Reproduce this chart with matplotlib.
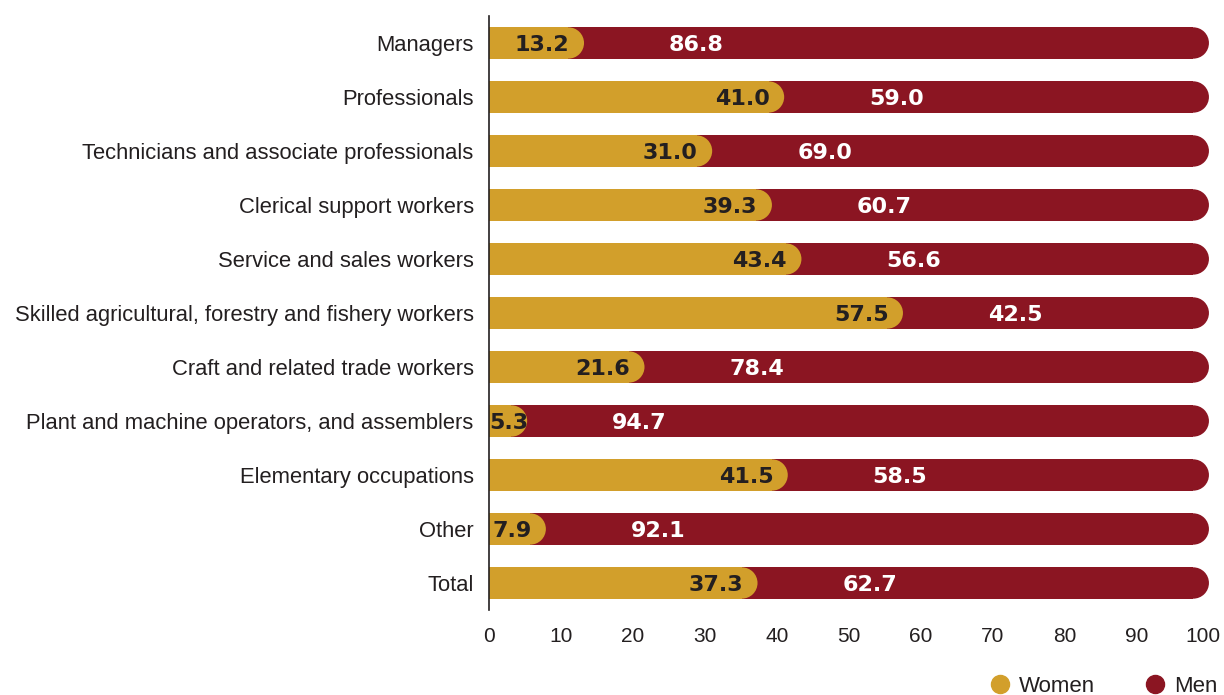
import matplotlib
matplotlib.use("Agg")
import matplotlib.pyplot as plt
import matplotlib.transforms as mtransforms
from matplotlib.patches import Ellipse
from matplotlib.lines import Line2D

categories = [
    "Managers",
    "Professionals",
    "Technicians and associate professionals",
    "Clerical support workers",
    "Service and sales workers",
    "Skilled agricultural, forestry and fishery workers",
    "Craft and related trade workers",
    "Plant and machine operators, and assemblers",
    "Elementary occupations",
    "Other",
    "Total",
]
women = [13.2, 41.0, 31.0, 39.3, 43.4, 57.5, 21.6, 5.3, 41.5, 7.9, 37.3]
men = [86.8, 59.0, 69.0, 60.7, 56.6, 42.5, 78.4, 94.7, 58.5, 92.1, 62.7]

women_color = "#D29F2B"
men_color = "#8B1522"
text_dark = "#231F20"

plt.rcParams["font.family"] = ["Liberation Sans", "DejaVu Sans"]

fig = plt.figure(figsize=(12.24, 6.95), dpi=100)
ax = fig.add_axes([0.3995, 0.1223, 0.5882, 0.8547])
ax.set_xlim(0, 100)
ax.set_ylim(len(categories) - 0.5, -0.5)

bar_h = 0.58
# half bar height in pixels, turned into x data units so the end cap is round
ax_w_px = 0.5882 * 1224
ax_h_px = 0.8547 * 695
r_px = bar_h / (len(categories)) * ax_h_px / 2
r_x = r_px / ax_w_px * 100


def rounded_bar(y, value, color, z):
    ax.barh(y, max(value - r_x, 0), height=bar_h, color=color, zorder=z, linewidth=0)
    ax.add_patch(Ellipse((value - r_x, y), 2 * r_x, bar_h, color=color, zorder=z, linewidth=0))


val_font = dict(fontsize=16, fontweight="bold", family="DejaVu Sans", va="center_baseline", zorder=5)

for i, (w, m) in enumerate(zip(women, men)):
    rounded_bar(i, w + m, men_color, 2)
    rounded_bar(i, w, women_color, 3)
    if w < 7:
        ax.text(0, i, f"{w:.1f}", ha="left", color=text_dark, **val_font)
    else:
        ax.text(w - 2.0, i, f"{w:.1f}", ha="right", color=text_dark, **val_font)
    ax.text(w + 11.8, i, f"{m:.1f}", ha="left", color="white", **val_font)

ax.set_yticks(range(len(categories)))
ax.set_yticklabels(categories, fontsize=15.8, color=text_dark)
ax.set_xticks(range(0, 101, 10))
ax.tick_params(axis="x", labelsize=15, colors=text_dark, length=0, pad=12)
ax.tick_params(axis="y", length=0, pad=11)

# nudge the "100" label so it stays inside the figure
last = ax.get_xticklabels()[-1]
last.set_transform(last.get_transform() + mtransforms.ScaledTranslation(-4 / 72, 0, fig.dpi_scale_trans))

for s in ["top", "right", "bottom"]:
    ax.spines[s].set_visible(False)
ax.spines["left"].set_color(text_dark)
ax.spines["left"].set_linewidth(1.2)
ax.spines["left"].set_zorder(6)

handles = [
    Line2D([], [], marker="o", linestyle="none", markersize=13, color=women_color),
    Line2D([], [], marker="o", linestyle="none", markersize=13, color=men_color),
]
fig.legend(handles, ["Women", "Men"], loc="center right", bbox_to_anchor=(1.002, 0.012),
           ncol=2, frameon=False, fontsize=16, handlelength=1.0, handletextpad=0.35,
           columnspacing=2.2, borderaxespad=0.0, labelcolor=text_dark)

fig.savefig("out.png", dpi=100)
